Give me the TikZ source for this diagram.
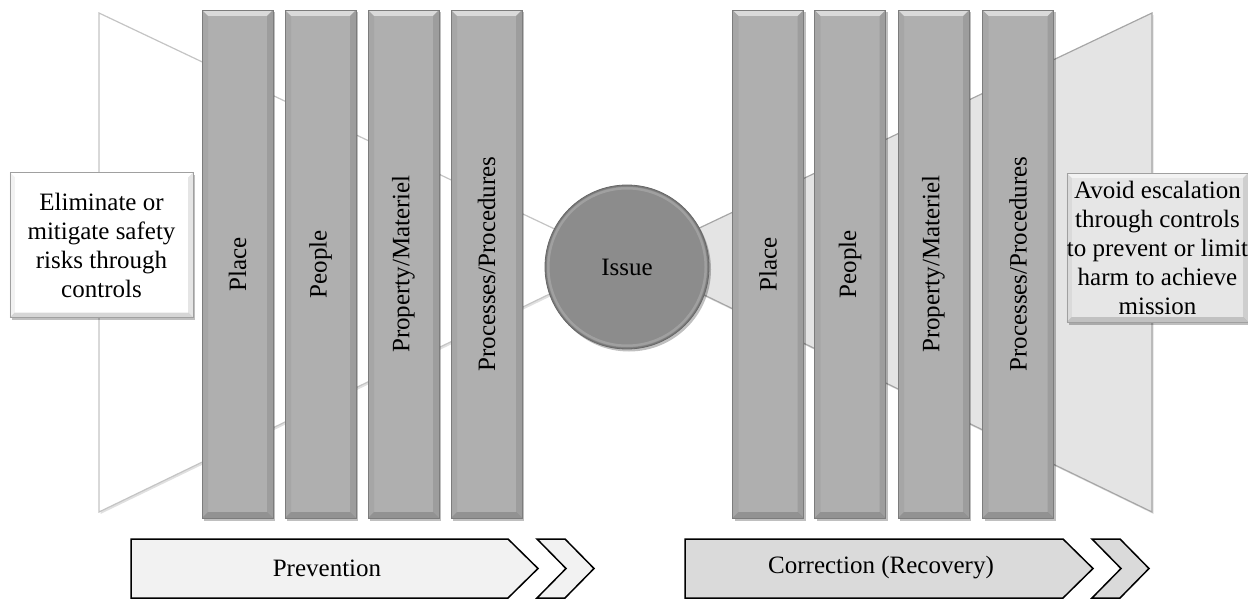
\documentclass[tikz,border=0pt]{standalone}
\usepackage{fontspec}
\setmainfont{Liberation Serif}
\usetikzlibrary{shadows,calc}

\definecolor{barfill}{HTML}{AFAFAF}
\definecolor{baredge}{HTML}{7C7C7C}
\definecolor{issuefill}{HTML}{8C8C8C}
\definecolor{issueedge}{HTML}{676767}
\definecolor{funnelLedge}{HTML}{C4C4C4}
\definecolor{funnelRfill}{HTML}{E4E4E4}
\definecolor{funnelRedge}{HTML}{A6A6A6}
\definecolor{prevfill}{HTML}{F2F2F2}
\definecolor{corrfill}{HTML}{DADADA}
\definecolor{boxRfill}{HTML}{E6E6E6}
\definecolor{boxedge}{HTML}{A0A0A0}

\tikzset{
  softshadow/.style={drop shadow={shadow xshift=2bp,shadow yshift=-2.5bp,opacity=.25,fill=black}},
  faintshadow/.style={drop shadow={shadow xshift=1.5bp,shadow yshift=-2bp,opacity=.12,fill=black}},
  bevelled/.style={path picture={
    \coordinate (pNW) at (path picture bounding box.north west);
    \coordinate (pNE) at (path picture bounding box.north east);
    \coordinate (pSW) at (path picture bounding box.south west);
    \coordinate (pSE) at (path picture bounding box.south east);
    \fill[white,opacity=.55] (pNW) -- (pNE) -- ($(pNE)+(-#1,#1)$) -- ($(pNW)+(#1,#1)$) -- cycle;
    \fill[black,opacity=.16] (pSW) -- (pSE) -- ($(pSE)+(-#1,-#1)$) -- ($(pSW)+(#1,-#1)$) -- cycle;
    \fill[black,opacity=.05] (pNW) -- (pSW) -- ($(pSW)+(#1,-#1)$) -- ($(pNW)+(#1,#1)$) -- cycle;
    \fill[black,opacity=.10] (pNE) -- (pSE) -- ($(pSE)+(-#1,-#1)$) -- ($(pNE)+(-#1,#1)$) -- cycle;
  }},
  bevelled/.default=6,
  bar/.style={draw=baredge, line width=0.8bp, fill=barfill, minimum width=71bp,
    minimum height=508bp, inner sep=0pt, softshadow, bevelled},
  barlabel/.style={rotate=90, inner sep=0pt},
  issue/.style={circle, draw=issueedge, line width=0.8bp, fill=issuefill,
    minimum size=164bp, inner sep=0pt, softshadow,
    path picture={
      \draw[white,opacity=.18,line width=3bp] (path picture bounding box.center) circle[radius=79bp];
      \draw[black,opacity=.12,line width=2bp] (path picture bounding box.center) circle[radius=81bp];
    }},
  infobox/.style={draw=boxedge, line width=0.8bp, align=center, inner sep=0pt,
    softshadow, bevelled=5},
  funnel/.style={line width=1.2bp, line join=miter, faintshadow},
  banner/.style={draw=black, line width=1.5bp, line join=miter},
}

\begin{document}
\begin{tikzpicture}[x=1bp, y=-1bp, font=\fontsize{25bp}{29bp}\selectfont]
  \useasboundingbox (0,0) rectangle (1248,599);

  % the two funnels meeting behind the issue
  \path[funnel, draw=funnelLedge, fill=white]
    (99,13) -- (99,512) -- (620,260) -- cycle;
  \path[funnel, draw=funnelRedge, fill=funnelRfill]
    (1152,13) -- (1152,512) -- (632,260) -- cycle;

  % prevention controls
  \node[bar] (p1) at (237.5,264) {};
  \node[bar] (p2) at (320.5,264) {};
  \node[bar] (p3) at (403.5,264) {};
  \node[bar] (p4) at (486.5,264) {};
  \node[barlabel] (p1t) at (p1) {Place};
  \node[barlabel] (p2t) at (p2) {People};
  \node[barlabel] (p3t) at (p3) {Property/Materiel};
  \node[barlabel] (p4t) at (p4) {Processes/Procedures};

  % correction controls
  \node[bar] (c1) at (768,264) {};
  \node[bar] (c2) at (850,264) {};
  \node[bar] (c3) at (933.5,264) {};
  \node[bar] (c4) at (1018,264) {};
  \node[barlabel] (c1t) at (c1) {Place};
  \node[barlabel] (c2t) at (c2) {People};
  \node[barlabel] (c3t) at (c3) {Property/Materiel};
  \node[barlabel] (c4t) at (c4) {Processes/Procedures};

  % the central issue
  \node[issue] (issue) at (627,267) {Issue};

  % goal descriptions at both ends
  \node[infobox, fill=white, minimum width=183bp, minimum height=145bp]
    (elim) at (101.5,245) {Eliminate or\\mitigate safety\\risks through\\controls};
  \node[infobox, fill=boxRfill, minimum width=179bp, minimum height=149bp]
    (avoid) at (1157.5,247.5) {Avoid escalation\\through controls\\to prevent or limit\\harm to achieve\\mission};

  % phase banners
  \path[banner, fill=prevfill]
    (131,539) -- (508,539) -- (538,568.5) -- (508,598) -- (131,598) -- cycle;
  \path[banner, fill=prevfill]
    (537,539) -- (565,539) -- (594,568.5) -- (565,598) -- (537,598) -- (566,568.5) -- cycle;
  \node[inner sep=0pt] (prev) at (327,568) {Prevention};

  \path[banner, fill=corrfill]
    (685,539) -- (1063,539) -- (1093,568.5) -- (1063,598) -- (685,598) -- cycle;
  \path[banner, fill=corrfill]
    (1092,539) -- (1120,539) -- (1149,568.5) -- (1120,598) -- (1092,598) -- (1121,568.5) -- cycle;
  \node[inner sep=0pt] (corr) at (881,568) {Correction (Recovery)};
\end{tikzpicture}
\end{document}
